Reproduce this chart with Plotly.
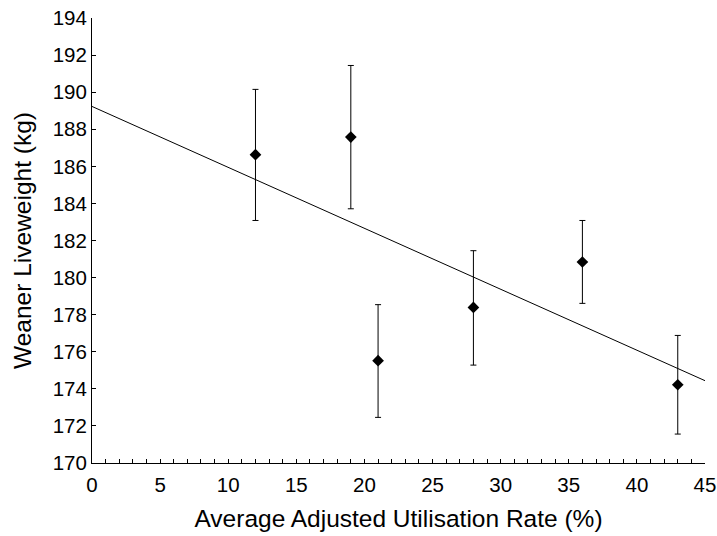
import plotly.graph_objects as go

utilisation = [12, 19, 21, 28, 36, 43]
liveweight = [186.63, 187.58, 175.52, 178.39, 180.84, 174.22]
err_upper = [3.52, 3.86, 3.02, 3.06, 2.24, 2.66]
err_lower = [3.55, 3.87, 3.06, 3.11, 2.23, 2.66]
trend_x = [0, 45]
trend_y = [189.23, 174.44]

FONT = "Liberation Sans, Arial, sans-serif"

fig = go.Figure()
fig.add_trace(go.Scatter(
    x=trend_x, y=trend_y, mode="lines",
    line=dict(color="black", width=1), showlegend=False, hoverinfo="skip"))
fig.add_trace(go.Scatter(
    x=utilisation, y=liveweight, mode="markers",
    marker=dict(symbol="diamond", size=9, color="black"),
    error_y=dict(type="data", symmetric=False, array=err_upper, arrayminus=err_lower,
                 color="black", thickness=1, width=3),
    showlegend=False))

fig.update_layout(
    width=717, height=536,
    margin=dict(l=92, r=12, t=18, b=73),
    paper_bgcolor="white", plot_bgcolor="white",
    font=dict(family=FONT, color="black", size=20),
)
fig.update_xaxes(
    range=[0, 45], dtick=5, tick0=0,
    showgrid=False, zeroline=False,
    showline=True, linecolor="black", linewidth=1,
    ticks="inside", ticklen=4, tickcolor="black",
    minor=dict(dtick=1, ticks="inside", ticklen=4, tickcolor="black", showgrid=False),
    tickfont=dict(size=20.5, family=FONT),
    ticklabelstandoff=3,
    title=dict(text="Average Adjusted Utilisation Rate (%)", font=dict(size=24.5, family=FONT), standoff=15),
    automargin=False,
)
fig.update_yaxes(
    range=[170, 194], dtick=2, tick0=170,
    showgrid=False, zeroline=False,
    showline=True, linecolor="black", linewidth=1,
    ticks="inside", ticklen=4, tickcolor="black",
    tickfont=dict(size=20.5, family=FONT),
    title=dict(text="Weaner Liveweight (kg)", font=dict(size=24.5, family=FONT), standoff=14),
    automargin=False,
)

fig.write_html("out.html")
